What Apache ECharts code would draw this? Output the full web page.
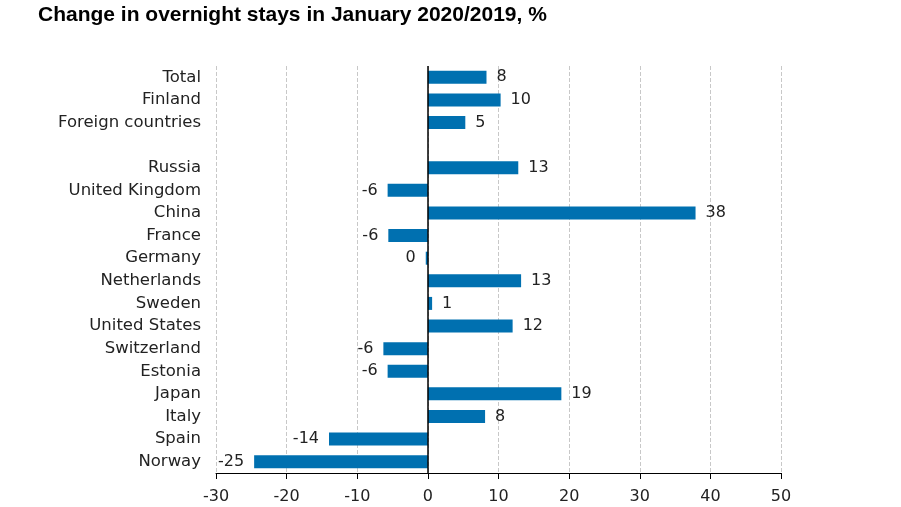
<!DOCTYPE html>
<html><head><meta charset="utf-8">
<script src="https://cdn.jsdelivr.net/npm/echarts@6/dist/echarts.min.js"></script>
<style>html,body{margin:0;padding:0;background:#fff;}#c{width:901px;height:507px;}</style>
</head><body><div id="c"></div>
<script>
const categories = ['Total','Finland','Foreign countries','','Russia','United Kingdom','China','France','Germany','Netherlands','Sweden','United States','Switzerland','Estonia','Japan','Italy','Spain','Norway'];
const values = [8.3, 10.3, 5.3, null, 12.8, -5.7, 37.9, -5.6, -0.3, 13.2, 0.6, 12.0, -6.3, -5.7, 18.9, 8.1, -14.0, -24.6];
const xTicks = {min:-30, max:50, interval:10};

const F = 'DejaVu Sans, Verdana, sans-serif';
const chart = echarts.init(document.getElementById('c'));
chart.setOption({
  animation:false,
  backgroundColor:'#fff',
  title:{text:'Change in overnight stays in January 2020/2019, %', left:33, top:0,
    textStyle:{fontFamily:'Liberation Sans, Arial, sans-serif', fontSize:21, fontWeight:'bold', color:'#000'}},
  grid:{left:216, right:120, top:66, bottom:34, containLabel:false},
  xAxis:{type:'value', min:xTicks.min, max:xTicks.max, interval:xTicks.interval,
    axisLine:{show:true, onZero:false, lineStyle:{color:'#000', width:1}},
    axisTick:{show:true, length:6, lineStyle:{color:'#000'}},
    axisLabel:{fontFamily:F, fontSize:16, color:'#222', margin:16},
    splitLine:{show:true, lineStyle:{color:'#c8c8c8', type:'dashed', width:1}}},
  yAxis:{type:'category', data:categories, inverse:true,
    axisLine:{show:false}, axisTick:{show:false},
    axisLabel:{fontFamily:F, fontSize:16.5, color:'#222', margin:15, interval:0}},
  series:[{type:'bar', barWidth:13, itemStyle:{color:'#0070b0'},
    data: values.map(v => v === null ? null : (v < 0 ? {value:v, label:{position:'left'}} : v)),
    label:{show:true, fontFamily:F, fontSize:16, color:'#222', distance:10,
      position:'right',
      formatter:p => String(Math.round(p.value) === 0 ? 0 : Math.round(p.value))},
    markLine:{silent:true, symbol:'none', label:{show:false}, lineStyle:{color:'#000', type:'solid', width:1.5},
      data:[{xAxis:0}]}
  }]
});
</script></body></html>
